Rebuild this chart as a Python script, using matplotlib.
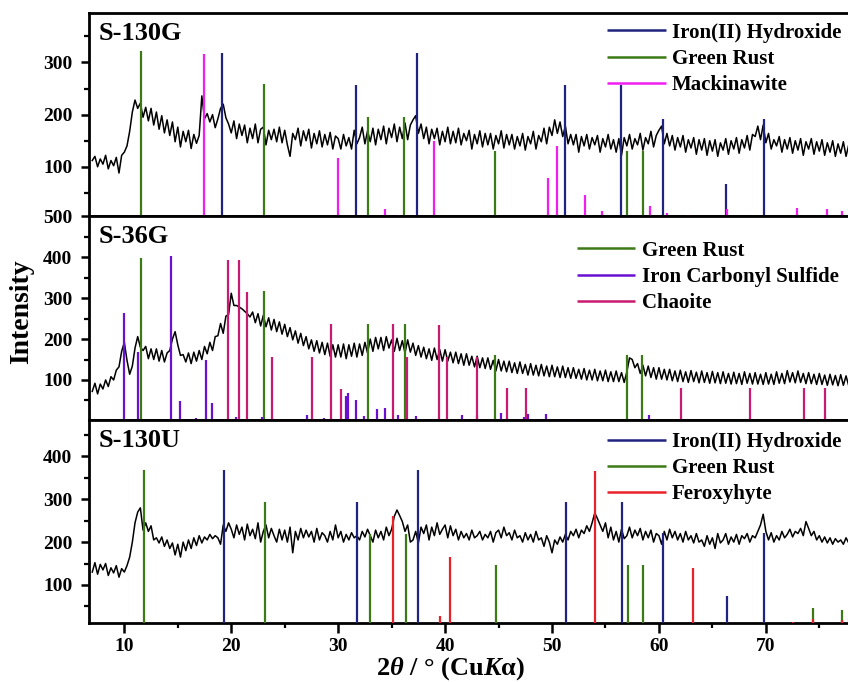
import numpy as np
import matplotlib
matplotlib.use("Agg")
import matplotlib.pyplot as plt

plt.rcParams['font.family'] = ['Liberation Serif', 'DejaVu Serif']
plt.rcParams['font.weight'] = 'bold'
plt.rcParams['mathtext.fontset'] = 'custom'
plt.rcParams['mathtext.rm'] = 'Liberation Serif:bold'
plt.rcParams['mathtext.bf'] = 'Liberation Serif:bold'
plt.rcParams['mathtext.it'] = 'Liberation Serif:bold:italic'

# ---------------- data ----------------
TWO_THETA_START = 7.0
TWO_THETA_STEP = 0.25

s130g_counts = [
    112, 120, 100, 115,  105, 122, 96, 112,  102, 118, 88, 122,
    128, 140, 168, 205,  228, 212, 222, 195,  214, 188, 212, 180,
    205, 172, 198, 165,  190, 160, 186, 148,  176, 138, 168, 148,
    170, 135, 162, 145,  160, 236, 192, 202,  186, 200, 175, 192,
    212, 220, 194, 182,  165, 188, 154, 182,  160, 180, 146, 174,
    154, 182, 146, 172,  176, 142, 170, 152,  172, 148, 176, 146,
    170, 142, 120, 164,  152, 174, 140, 169,  150, 172, 136, 164,
    144, 169, 138, 162,  142, 166, 134, 159,  154, 134, 162, 140,
    156, 134, 170, 144,  156, 176, 144, 169,  148, 174, 142, 172,
    152, 178, 144, 174,  156, 182, 148, 176,  154, 184, 152, 180,
    190, 198, 164, 182,  154, 176, 144, 172,  154, 174, 142, 168,
    148, 176, 144, 168,  146, 174, 142, 164,  150, 170, 134, 162,
    144, 169, 138, 164,  142, 164, 134, 160,  144, 169, 136, 162,
    142, 162, 134, 158,  140, 164, 132, 158,  144, 168, 134, 160,
    148, 174, 144, 176,  160, 190, 164, 186,  158, 178, 144, 162,
    142, 162, 128, 158,  140, 162, 134, 156,  142, 160, 128, 154,
    138, 162, 134, 152,  128, 154, 122, 156,  140, 162, 134, 154,
    142, 164, 132, 156,  144, 168, 138, 160,  170, 178, 144, 164,
    140, 160, 132, 156,  138, 160, 128, 152,  136, 156, 124, 152,
    132, 154, 122, 150,  130, 152, 120, 146,  132, 154, 124, 150,
    134, 156, 126, 152,  136, 160, 132, 162,  158, 178, 152, 180,
    146, 164, 134, 152,  140, 158, 128, 152,  134, 156, 126, 150,
    132, 154, 122, 148,  134, 154, 124, 148,  130, 152, 122, 146,
    128, 150, 120, 144,  126, 148, 120, 142,  136,
]

s36g_counts = [
    72, 92, 66, 90,  78, 100, 84, 108,  100, 124, 132, 170,
    192, 148, 114, 134,  178, 206, 180, 172,  182, 152, 176, 150,
    176, 146, 172, 144,  166, 172, 200, 218,  186, 160, 162, 144,
    166, 140, 168, 146,  172, 150, 182, 164,  192, 172, 206, 208,
    238, 214, 256, 260,  312, 282, 282, 278,  274, 268, 262, 254,
    266, 240, 262, 232,  258, 230, 252, 222,  248, 218, 242, 212,
    236, 206, 228, 198,  220, 190, 214, 184,  206, 176, 198, 170,
    196, 166, 192, 162,  190, 158, 186, 156,  186, 156, 188, 152,
    186, 158, 190, 156,  188, 160, 192, 166,  200, 170, 204, 176,
    204, 172, 206, 178,  198, 170, 202, 172,  196, 166, 198, 168,
    190, 160, 184, 156,  180, 152, 176, 148,  178, 150, 174, 146,
    174, 146, 168, 142,  168, 140, 164, 136,  164, 136, 158, 132,
    158, 130, 154, 128,  154, 126, 148, 122,  150, 122, 146, 120,
    146, 118, 142, 116,  144, 116, 138, 112,  140, 112, 136, 110,
    138, 110, 134, 108,  136, 108, 132, 106,  134, 106, 130, 104,
    130, 104, 126, 102,  128, 100, 124, 100,  126, 98, 122, 98,
    124, 96, 120, 96,  122, 96, 118, 94,  120, 154, 150, 130,
    140, 116, 136, 110,  134, 106, 130, 102,  130, 102, 126, 100,
    126, 98, 122, 96,  124, 96, 120, 94,  123, 96, 119, 93,
    122, 94, 118, 92,  121, 93, 118, 91,  120, 92, 116, 90,
    119, 91, 116, 89,  120, 92, 116, 90,  118, 90, 114, 89,
    118, 90, 114, 89,  120, 92, 116, 91,  123, 95, 118, 93,
    122, 94, 116, 91,  118, 91, 114, 89,  116, 89, 112, 87,
    114, 88, 111, 86,  113, 87, 110, 86,  100,
]

s130u_counts = [
    130, 152, 125, 148,  135, 150, 122, 140,  128, 145, 118, 138,
    130, 145, 165, 200,  245, 270, 280, 228,  245, 225, 238, 205,
    210, 198, 212, 190,  205, 185, 198, 170,  195, 165, 200, 180,
    205, 185, 210, 192,  215, 198, 212, 205,  218, 208, 215, 210,
    195, 240, 225, 245,  230, 210, 240, 218,  235, 205, 242, 215,
    230, 208, 245, 200,  225, 240, 210, 232,  215, 200, 230, 205,
    228, 200, 235, 175,  225, 205, 232, 210,  228, 212, 225, 200,
    232, 205, 222, 215,  200, 225, 205, 240,  210, 225, 200, 218,
    205, 222, 210, 215,  205, 225, 212, 230,  215, 200, 228, 210,
    225, 205, 235, 215,  230, 260, 275, 262,  248, 225, 240, 200,
    205, 225, 198, 235,  220, 240, 205, 235,  215, 245, 218, 230,
    240, 210, 238, 215,  230, 205, 225, 210,  220, 205, 228, 210,
    215, 225, 205, 218,  210, 225, 200, 222,  228, 210, 235, 215,
    222, 205, 228, 210,  215, 200, 222, 205,  218, 200, 225, 205,
    210, 190, 215, 200,  175, 205, 195, 212,  200, 218, 205, 225,
    215, 230, 210, 228,  220, 238, 225, 245,  268, 255, 240, 225,
    245, 210, 235, 205,  225, 200, 230, 208,  215, 235, 210, 228,
    215, 232, 205, 225,  210, 228, 200, 220,  215, 195, 225, 205,
    230, 210, 225, 205,  220, 200, 225, 205,  215, 198, 220, 200,
    205, 190, 215, 195,  210, 185, 220, 198,  205, 220, 195, 212,
    200, 218, 195, 215,  208, 220, 200, 215,  210, 225, 240, 265,
    225, 205, 222, 200,  215, 205, 225, 210,  218, 230, 212, 225,
    220, 232, 215, 248,  232, 215, 225, 205,  215, 200, 212, 198,
    210, 195, 208, 200,  205, 195, 210, 198,  205,
]

# reference patterns (positions in 2theta, relative heights)
hydroxide_130g_pos = [19.12, 31.67, 37.36, 51.25, 56.48, 60.38, 66.3, 69.84]
hydroxide_130g_h = [319, 256, 319, 256, 256, 192, 67, 192]
greenrust_130g_pos = [11.6, 23.05, 32.83, 36.2, 44.65, 57.05, 58.5]
greenrust_130g_h = [322, 259, 195, 195, 130, 130, 130]
mackinawite_pos = [17.48, 30.0, 34.4, 35.6, 38.93, 49.6, 50.5, 53.08, 54.7,
                   59.18, 60.75, 62.7, 66.4, 72.9, 75.7, 77.1]
mackinawite_h = [317, 117, 19, 8, 149, 78, 140, 46, 16, 25, 12, 7, 19, 21, 19, 16]

greenrust_36g_pos = [11.6, 23.08, 32.83, 36.23, 44.65, 57.04, 58.46]
greenrust_36g_h = [397, 317, 238, 238, 160, 160, 160]
carbonyl_pos = [10.0, 11.25, 14.4, 15.2, 16.7, 17.67, 18.2, 20.4, 22.9, 27.1,
                28.65, 30.7, 30.9, 31.67, 32.4, 33.6, 34.37, 35.6, 37.3, 41.6,
                43.0, 45.2, 47.4, 47.8, 49.4, 50.6, 52.1, 59.1]
carbonyl_h = [264, 168, 403, 49, 8, 149, 43, 10, 10, 15, 8, 60, 67, 51, 12, 29,
              32, 15, 13, 15, 14, 20, 10, 18, 18, 5, 5, 15]
chaoite_pos = [19.72, 20.7, 21.44, 23.84, 27.58, 29.37, 30.28, 35.1, 36.45,
               39.46, 40.19, 43.0, 45.75, 47.6, 62.08, 68.55, 73.58, 75.5]
chaoite_h = [393, 393, 315, 157, 157, 237, 78, 237, 157, 235, 157, 157, 80, 80,
             80, 80, 80, 80]

hydroxide_130u_pos = [19.31, 31.8, 37.45, 51.35, 56.57, 60.4, 66.35, 69.84]
hydroxide_130u_h = [368, 294, 368, 294, 294, 222, 74, 222]
greenrust_130u_pos = [11.82, 23.2, 32.95, 36.35, 44.75, 57.07, 58.52, 74.37, 77.1, 77.76]
greenrust_130u_h = [368, 294, 219, 219, 147, 147, 147, 45, 41, 20]
feroxyhyte_pos = [35.16, 39.56, 40.5, 53.99, 63.14, 72.5, 74.37, 77.1]
feroxyhyte_h = [260, 27, 165, 365, 140, 14, 20, 17]

sample_names = ["S-130G", "S-36G", "S-130U"]
x_ticks = [10, 20, 30, 40, 50, 60, 70]

# ---------------- style ----------------
C_HYD = '#202380'
C_GR = '#3c7a16'
C_MACK = '#f01ef0'
C_CARB = '#6a10d0'
C_CHAO = '#c81a70'
C_FER = '#e82228'

fig = plt.figure(figsize=(8.48, 6.82), dpi=100)
fig.subplots_adjust(left=0.105, right=1.004, top=0.981, bottom=0.0865, hspace=0)
axes = fig.subplots(3, 1, sharex=True)

def grid_of(vals):
    return TWO_THETA_START + TWO_THETA_STEP * np.arange(len(vals))

panels = [
    (s130g_counts, [(hydroxide_130g_pos, hydroxide_130g_h, C_HYD, 'Iron(II) Hydroxide'),
                    (greenrust_130g_pos, greenrust_130g_h, C_GR, 'Green Rust'),
                    (mackinawite_pos, mackinawite_h, C_MACK, 'Mackinawite')],
     (5, 395), [100, 200, 300], [50, 150, 250, 350], (0.68, 0.952)),
    (s36g_counts, [(greenrust_36g_pos, greenrust_36g_h, C_GR, 'Green Rust'),
                   (carbonyl_pos, carbonyl_h, C_CARB, 'Iron Carbonyl Sulfide'),
                   (chaoite_pos, chaoite_h, C_CHAO, 'Chaoite')],
     (3, 500), [100, 200, 300, 400, 500], [50, 150, 250, 350, 450], (0.64, 0.88)),
    (s130u_counts, [(hydroxide_130u_pos, hydroxide_130u_h, C_HYD, 'Iron(II) Hydroxide'),
                    (greenrust_130u_pos, greenrust_130u_h, C_GR, 'Green Rust'),
                    (feroxyhyte_pos, feroxyhyte_h, C_FER, 'Feroxyhyte')],
     (11, 486), [100, 200, 300, 400], [50, 150, 250, 350, 450], (0.68, 0.94)),
]

for ax, name, (counts, sticks, ylim, majors, minors, leganchor) in zip(axes, sample_names, panels):
    ax.plot(grid_of(counts), counts, color='black', lw=1.1, zorder=2)
    for pos, h, col, lab in sticks:
        ax.vlines(pos, 0, h, colors=col, lw=1.6, zorder=3, label=lab)
    ax.set_ylim(*ylim)
    ax.set_xlim(6.7, 78.0)
    ax.set_yticks(majors)
    ax.set_yticks(minors, minor=True)
    ax.set_xticks(x_ticks)
    ax.set_xticks([15, 25, 35, 45, 55, 65, 75], minor=True)
    for sp in ax.spines.values():
        sp.set_linewidth(2.0)
    ax.spines['right'].set_visible(False)
    ax.tick_params(axis='both', which='major', direction='out', length=6, width=1.8,
                   labelsize=14)
    ax.tick_params(axis='y', which='major', pad=6)
    ax.tick_params(axis='x', which='major', length=7, pad=4)
    ax.tick_params(axis='both', which='minor', direction='out', length=3.5, width=1.6)
    ax.tick_params(top=False, right=False, which='both')
    for t in ax.get_yticklabels():
        t.set_fontweight('bold')
    ax.text(0.012, 0.955, name, transform=ax.transAxes, ha='left', va='top',
            fontsize=19, fontweight='bold')
    leg = ax.legend(loc='upper left', bbox_to_anchor=leganchor, frameon=False,
                    prop={'size': 15, 'weight': 'bold'}, handlelength=2.8,
                    handletextpad=0.3, labelspacing=0.3, borderpad=0, borderaxespad=0)
    for lh in leg.legend_handles:
        lh.set_linewidth(1.8)

for ax in axes[:-1]:
    ax.tick_params(axis='x', labelbottom=False)
for t in axes[-1].get_xticklabels():
    t.set_fontweight('bold')

fig.text(0.531, 0.0, r'2$\mathit{θ}$ / ° (Cu$\mathit{K}$α)',
         ha='center', va='bottom', fontsize=19, fontweight='bold')
fig.text(0.026, 0.5425, 'Intensity', rotation=90, ha='center', va='center',
         fontsize=20, fontweight='bold')

fig.savefig('out.png', dpi=100)
